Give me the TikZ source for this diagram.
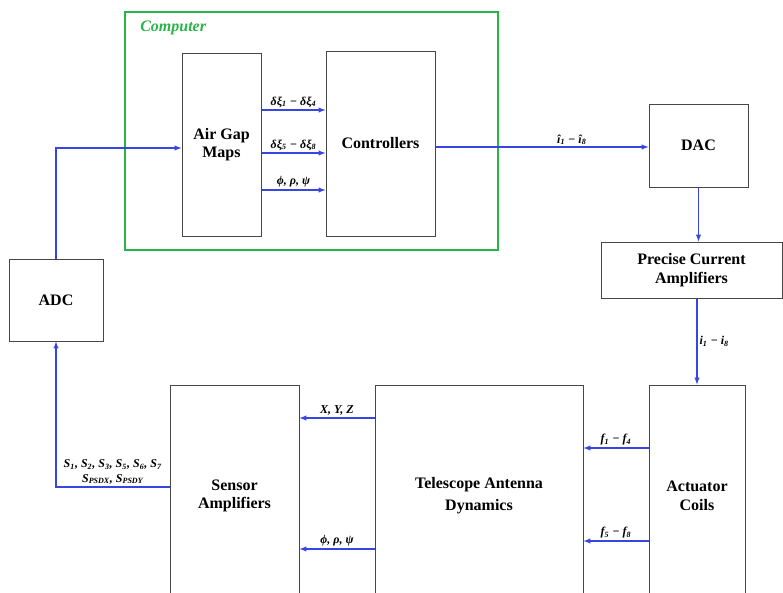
\documentclass[tikz,border=0pt]{standalone}
\usepackage{fontspec}
\setmainfont{Liberation Serif}
\usepackage{tikz}
\usetikzlibrary{shapes.geometric, arrows}
\usetikzlibrary{calc}
\definecolor{linkblue}{RGB}{55,70,225}
\definecolor{compgreen}{RGB}{40,180,70}
\definecolor{boxgray}{RGB}{70,70,70}

\begin{document}
\begin{tikzpicture}[x=0.75pt,y=0.75pt,yscale=-1,xscale=1]
  \tikzstyle{arrow} = [draw=linkblue,line width=0.8pt,-latex]
  \tikzstyle{block} = [draw=boxgray,line width=0.75pt,rectangle,inner sep=0pt,align=center,font=\fontsize{12}{14}\selectfont\bfseries]
  \tikzstyle{lbl} = [inner sep=1.5pt,align=center,font=\fontsize{9}{11}\selectfont\bfseries\itshape]
  %set diagram to 783 x 593
  \useasboundingbox (0,0) rectangle (783,593);
  \clip (0,0) rectangle (783,593);

  %Draw the computer frame
  \node [draw=compgreen,line width=1.6pt,minimum width=279.75pt,minimum height=178.5pt] (comp) at (311.5,131) {};
  \node [anchor=west,inner sep=0pt,text=compgreen,font=\fontsize{12}{14}\selectfont\bfseries\itshape] (comptitle) at (140,28) {Computer};

  %Draw the blocks
  \node [block,minimum width=59.25pt,minimum height=137.25pt] (air) at (221.5,144.5) {Air Gap\\Maps};
  \node [block,minimum width=81.75pt,minimum height=138.75pt] (ctrl) at (380.5,143.5) {Controllers};
  \node [block,minimum width=74.25pt,minimum height=62.25pt] (dac) at (698.5,145.5) {DAC};
  \node [block,minimum width=135.75pt,minimum height=42pt] (pca) at (691.5,270) {Precise Current\\Amplifiers};
  \node [block,minimum width=72pt,minimum height=166.5pt] (coils) at (697,496) {Actuator\\Coils};
  \node [block,minimum width=156pt,minimum height=166.5pt,font=\fontsize{12}{16.5}\selectfont\bfseries] (tad) at (479,496) {Telescope Antenna\\Dynamics};
  \node [block,minimum width=96.75pt,minimum height=166.5pt] (sens) at (234.5,496) {Sensor\\Amplifiers};
  \node [block,minimum width=70.5pt,minimum height=61.5pt] (adc) at (56,300) {ADC};

  %Draw the signals inside the computer
  \draw [arrow] (air.east |- 0,110) -- (ctrl.west |- 0,110) node [lbl,midway,above] (dxa) {δξ\textsubscript{1} − δξ\textsubscript{4}};
  \draw [arrow] (air.east |- 0,153) -- (ctrl.west |- 0,153) node [lbl,midway,above] (dxb) {δξ\textsubscript{5} − δξ\textsubscript{8}};
  \draw [arrow] (air.east |- 0,190) -- (ctrl.west |- 0,190) node [lbl,midway,above] (ang) {ϕ, ρ, ψ};

  %Draw the current path
  \draw [arrow] (ctrl.east |- 0,147) -- (dac.west |- 0,147) node [lbl,pos=0.64,above] (ihat) {\^{\i}\textsubscript{1} − \^{\i}\textsubscript{8}};
  \draw [arrow] (dac.south) -- (dac.south |- pca.north);
  \draw [arrow] (coils.north |- pca.south) -- (coils.north) node [lbl,midway,right] (icur) {i\textsubscript{1} − i\textsubscript{8}};

  %Draw the forces and outputs
  \draw [arrow] (coils.west |- 0,448) -- (tad.east |- 0,448) node [lbl,midway,above] (fa) {f\textsubscript{1} − f\textsubscript{4}};
  \draw [arrow] (coils.west |- 0,541) -- (tad.east |- 0,541) node [lbl,midway,above] (fb) {f\textsubscript{5} − f\textsubscript{8}};
  \draw [arrow] (tad.west |- 0,418) -- (sens.east |- 0,418) node [lbl,midway,above] (xyz) {X, Y, Z};
  \draw [arrow] (tad.west |- 0,549) -- (sens.east |- 0,549) node [lbl,midway,above] (angb) {ϕ, ρ, ψ};

  %Draw the feedback loop
  \draw [arrow] (sens.west |- 0,487) -- (adc.south |- 0,487) node [lbl,midway,above] (sig) {S\textsubscript{1}, S\textsubscript{2}, S\textsubscript{3}, S\textsubscript{5}, S\textsubscript{6}, S\textsubscript{7}\\S\textsubscript{PSDX}, S\textsubscript{PSDY}} -- (adc.south);
  \draw [arrow] (adc.north) -- (adc.north |- 0,148) -- (air.west |- 0,148);
\end{tikzpicture}
\end{document}
